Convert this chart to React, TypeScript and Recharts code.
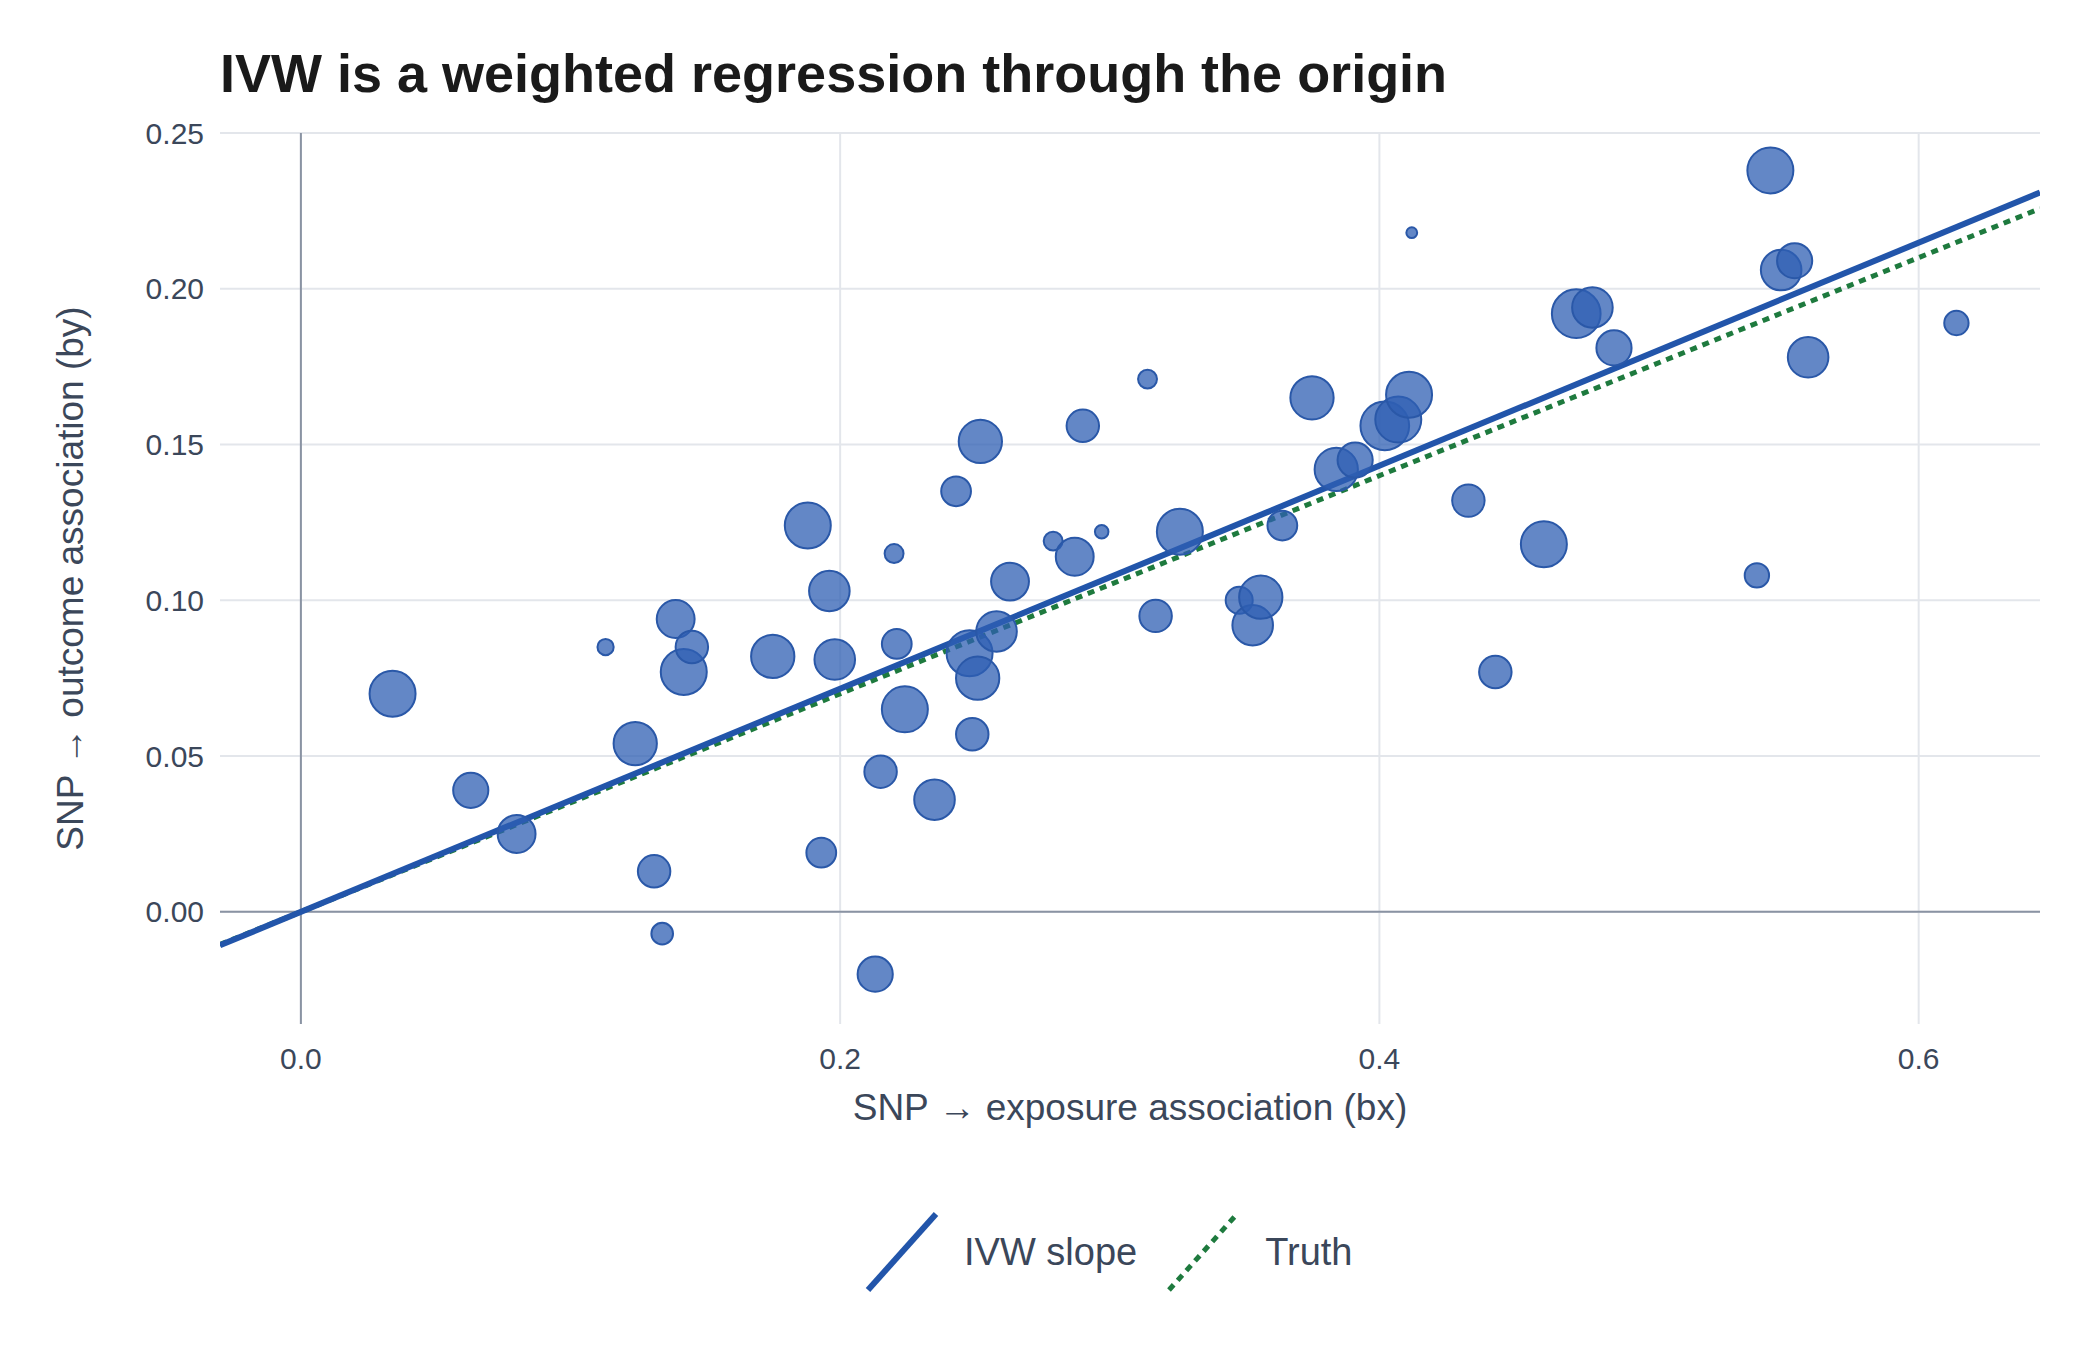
import React from "react";
import { ScatterChart, Scatter, XAxis, YAxis, ZAxis, CartesianGrid, ReferenceLine } from "recharts";

const bx = [0.034,0.063,0.080,0.113,0.124,0.131,0.134,0.139,0.142,0.145,0.175,0.188,0.193,0.196,0.198,0.213,0.215,0.220,0.221,0.224,0.235,0.243,0.248,0.249,0.251,0.252,0.258,0.263,0.279,0.287,0.290,0.297,0.314,0.317,0.326,0.348,0.353,0.356,0.364,0.375,0.384,0.391,0.402,0.407,0.411,0.412,0.433,0.443,0.461,0.473,0.479,0.487,0.540,0.545,0.549,0.554,0.559,0.614];
const by = [0.070,0.039,0.025,0.085,0.054,0.013,-0.007,0.094,0.077,0.085,0.082,0.124,0.019,0.103,0.081,-0.020,0.045,0.115,0.086,0.065,0.036,0.135,0.083,0.057,0.075,0.151,0.090,0.106,0.119,0.114,0.156,0.122,0.171,0.095,0.122,0.100,0.092,0.101,0.124,0.165,0.142,0.145,0.156,0.158,0.166,0.218,0.132,0.077,0.118,0.192,0.194,0.181,0.108,0.238,0.206,0.209,0.178,0.189];
const weight = [289,169,196,36,256,144,64,196,289,144,256,289,121,225,225,169,144,49,121,289,225,121,289,144,256,256,225,196,49,196,144,25,49,144,289,100,225,256,121,256,256,169,324,289,289,16,144,144,289,324,225,169,81,289,225,169,225,81];
const xTicks = [0, 0.2, 0.4, 0.6];
const yTicks = [0, 0.05, 0.1, 0.15, 0.2, 0.25];
const ivwSlope = 0.358;
const trueSlope = 0.35;
const xDomain: [number, number] = [-0.03, 0.645];
const yDomain: [number, number] = [-0.036, 0.25];

const data = bx.map((x, i) => ({ x, y: by[i], w: weight[i] }));
const FONT = "'Liberation Sans', Arial, sans-serif";
const TXT = "#3b475a";

export default function App() {
  return (
    <div style={{ position: "absolute", left: 0, top: 0, width: 2100, height: 1350, background: "#fff", fontFamily: FONT }}>
      <div style={{ position: "absolute", left: 220, top: 42, fontSize: 54, fontWeight: "bold", color: "#1a1a1a" }}>
        IVW is a weighted regression through the origin
      </div>
      <ScatterChart width={2100} height={1350} margin={{ top: 133, right: 60, bottom: 226, left: 120 }}>
        <CartesianGrid stroke="#e3e6eb" strokeWidth={2} horizontalValues={yTicks} verticalValues={xTicks} />
        <XAxis type="number" dataKey="x" domain={xDomain} ticks={xTicks} allowDataOverflow axisLine={false} tickLine={false}
          tick={{ fill: TXT, fontSize: 30, fontFamily: FONT }} tickFormatter={(v: number) => v.toFixed(1)} tickMargin={18} height={100}
          label={{ value: "SNP → exposure association (bx)", position: "insideBottom", offset: 4, fill: TXT, fontSize: 37, fontFamily: FONT }} />
        <YAxis type="number" dataKey="y" domain={yDomain} ticks={yTicks} allowDataOverflow axisLine={false} tickLine={false}
          tick={{ fill: TXT, fontSize: 30, fontFamily: FONT }} tickFormatter={(v: number) => v.toFixed(2)} tickMargin={10} width={100}
          label={{ value: "SNP → outcome association (by)", angle: -90, position: "insideLeft", offset: -50, fill: TXT, fontSize: 37, fontFamily: FONT, style: { textAnchor: "middle" } }} />
        <ZAxis type="number" dataKey="w" domain={[0, 324]} range={[0, 1863]} />
        <ReferenceLine x={0} stroke="#8a93a3" strokeWidth={2} />
        <ReferenceLine y={0} stroke="#8a93a3" strokeWidth={2} />
        <Scatter data={data} fill="#2f5fb3" fillOpacity={0.75} stroke="#2a58a8" strokeWidth={2} isAnimationActive={false} />
        <ReferenceLine segment={[{ x: xDomain[0], y: xDomain[0] * trueSlope }, { x: xDomain[1], y: xDomain[1] * trueSlope }]}
          stroke="#1e7a3e" strokeWidth={5} strokeDasharray="7 6" ifOverflow="hidden" />
        <ReferenceLine segment={[{ x: xDomain[0], y: xDomain[0] * ivwSlope }, { x: xDomain[1], y: xDomain[1] * ivwSlope }]}
          stroke="#2255aa" strokeWidth={6} ifOverflow="hidden" />
      </ScatterChart>
      <div style={{ position: "absolute", top: 1212, left: 862, display: "flex", alignItems: "center", fontSize: 38, color: TXT }}>
        <svg width={80} height={80}><line x1={6} y1={78} x2={74} y2={2} stroke="#2255aa" strokeWidth={6} /></svg>
        <span style={{ marginLeft: 22, marginRight: 26 }}>IVW slope</span>
        <svg width={80} height={80}><line x1={6} y1={78} x2={74} y2={2} stroke="#1e7a3e" strokeWidth={5} strokeDasharray="7 6" /></svg>
        <span style={{ marginLeft: 22 }}>Truth</span>
      </div>
    </div>
  );
}
